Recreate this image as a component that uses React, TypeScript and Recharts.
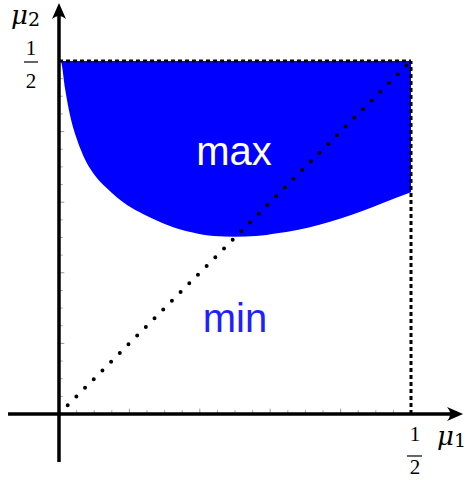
import React from 'react'
import { ComposedChart, Area, XAxis, YAxis, ReferenceLine, ReferenceDot } from 'recharts'

// lower edge of the "max" region (upper edge is mu2 = 1/2)
const boundaryX = [0, 0.0024, 0.0085, 0.0156, 0.025, 0.034, 0.044, 0.055, 0.0677, 0.082, 0.0966, 0.12, 0.1435, 0.17, 0.19, 0.22, 0.25, 0.28, 0.31, 0.34, 0.37, 0.4, 0.43, 0.46, 0.5]
const boundaryLow = [0.4999, 0.4995, 0.4615, 0.4235, 0.3905, 0.367, 0.348, 0.333, 0.32, 0.307, 0.296, 0.283, 0.272, 0.262, 0.257, 0.252, 0.251, 0.252, 0.256, 0.261, 0.268, 0.277, 0.287, 0.299, 0.314]
const HALF = 0.5

// small tick marks along both axes
const minorTicks = [0.025, 0.05, 0.075, 0.125, 0.15, 0.175, 0.225, 0.25, 0.275, 0.325, 0.35, 0.375, 0.425, 0.45, 0.475]
const majorTicks = [0.1, 0.2, 0.3, 0.4]

const data = boundaryX.map((x, i) => ({ x, band: [boundaryLow[i], HALF] }))

const X_DOMAIN: [number, number] = [-0.0838, 0.5838]
const Y_DOMAIN: [number, number] = [-0.0935, 0.5864]

const serif = '"Liberation Serif", "DejaVu Serif", serif'
const muFont = '"DejaVu Serif", serif'
const sans = '"Liberation Sans", Arial, sans-serif'

const ArrowUp = ({ cx, cy }: any) => (
  <path d={`M${cx},${cy} L${cx - 7},${cy + 16} Q${cx},${cy + 10} ${cx + 7},${cy + 16} Z`} fill="#000" />
)

const ArrowRight = ({ cx, cy }: any) => (
  <path d={`M${cx},${cy} L${cx - 16},${cy - 7} Q${cx - 10},${cy} ${cx - 16},${cy + 7} Z`} fill="#000" />
)

const FracBelow = ({ cx, cy }: any) => (
  <g fontFamily={serif} fontSize={21} fill="#000" textAnchor="middle">
    <text x={cx + 4} y={cy + 27}>1</text>
    <line x1={cx - 4} x2={cx + 11} y1={cy + 42} y2={cy + 42} stroke="#000" strokeWidth={1.2} />
    <text x={cx + 4} y={cy + 60}>2</text>
  </g>
)

const FracLeft = ({ cx, cy }: any) => (
  <g fontFamily={serif} fontSize={21} fill="#000" textAnchor="middle">
    <text x={cx - 28} y={cy - 6}>1</text>
    <line x1={cx - 35} x2={cx - 21} y1={cy + 1} y2={cy + 1} stroke="#000" strokeWidth={1.2} />
    <text x={cx - 28} y={cy + 27}>2</text>
  </g>
)

const Mu = ({ x, y, sub }: { x: number; y: number; sub: string }) => (
  <text x={x} y={y} fontFamily={muFont} fill="#000">
    <tspan fontSize={26} fontStyle="italic">μ</tspan>
    <tspan fontSize={19} dy={2}>{sub}</tspan>
  </text>
)

const RegionLabel = (text: string, color: string) => ({ cx, cy }: any) => (
  <text x={cx} y={cy} fontFamily={sans} fontSize={40} fill={color} textAnchor="middle">{text}</text>
)

export default function App() {
  return (
    <div style={{ position: 'absolute', left: 0, top: 0, background: '#fff' }}>
      <ComposedChart width={470} height={480} data={data} margin={{ top: 0, right: 0, bottom: 0, left: 0 }}>
        <XAxis type="number" dataKey="x" domain={X_DOMAIN} allowDataOverflow hide />
        <YAxis type="number" domain={Y_DOMAIN} allowDataOverflow hide />
        <Area
          type="monotone"
          dataKey="band"
          stroke="none"
          fill="#0000ff"
          fillOpacity={1}
          dot={false}
          activeDot={false}
          isAnimationActive={false}
        />

        {/* dashed frame and dotted diagonal */}
        <ReferenceLine segment={[{ x: 0, y: HALF }, { x: HALF, y: HALF }]} stroke="#000" strokeWidth={3} strokeDasharray="4 3" />
        <ReferenceLine segment={[{ x: HALF, y: 0 }, { x: HALF, y: HALF }]} stroke="#000" strokeWidth={3} strokeDasharray="4 3" />
        <ReferenceLine segment={[{ x: 0, y: 0 }, { x: HALF, y: HALF }]} stroke="#000" strokeWidth={4} strokeDasharray="0 12.3" strokeLinecap="round" />

        {/* ticks */}
        {minorTicks.map((t) => (
          <ReferenceLine key={`xm${t}`} segment={[{ x: t, y: 0 }, { x: t, y: 0.0055 }]} stroke="#aaa" strokeWidth={1} />
        ))}
        {majorTicks.map((t) => (
          <ReferenceLine key={`xM${t}`} segment={[{ x: t, y: 0 }, { x: t, y: 0.0075 }]} stroke="#999" strokeWidth={1} />
        ))}
        {minorTicks.map((t) => (
          <ReferenceLine key={`ym${t}`} segment={[{ x: 0, y: t }, { x: 0.0055, y: t }]} stroke="#aaa" strokeWidth={1} />
        ))}
        {majorTicks.map((t) => (
          <ReferenceLine key={`yM${t}`} segment={[{ x: 0, y: t }, { x: 0.0075, y: t }]} stroke="#999" strokeWidth={1} />
        ))}

        {/* axes */}
        <ReferenceLine segment={[{ x: -0.0724, y: 0 }, { x: 0.56, y: 0 }]} stroke="#000" strokeWidth={3.5} />
        <ReferenceLine segment={[{ x: 0, y: -0.068 }, { x: 0, y: 0.568 }]} stroke="#000" strokeWidth={3.5} />
        <ReferenceDot x={0.574} y={0} r={1} shape={ArrowRight} />
        <ReferenceDot x={0} y={0.582} r={1} shape={ArrowUp} />

        {/* labels */}
        <ReferenceDot x={HALF} y={0} r={1} shape={FracBelow} />
        <ReferenceDot x={0} y={HALF} r={1} shape={FracLeft} />
        <ReferenceDot x={0.2486} y={0.3527} r={1} shape={RegionLabel('max', '#fff')} />
        <ReferenceDot x={0.25} y={0.116} r={1} shape={RegionLabel('min', '#1f1fff')} />
      </ComposedChart>
      <svg width={470} height={480} style={{ position: 'absolute', left: 0, top: 0, pointerEvents: 'none' }}>
        <Mu x={11} y={24} sub="2" />
        <Mu x={437} y={445} sub="1" />
      </svg>
    </div>
  )
}
